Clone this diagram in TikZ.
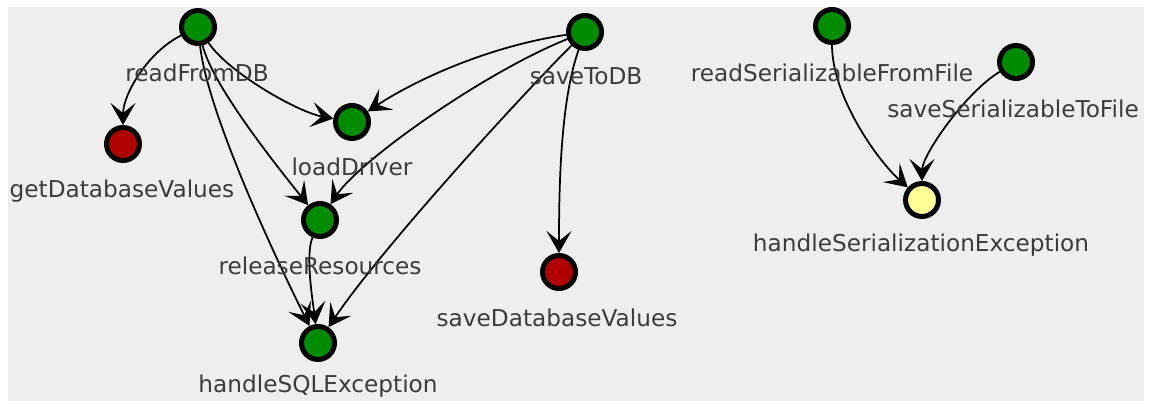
\documentclass[tikz,border=0pt]{standalone}
\usepackage{fontspec}
\setsansfont{DejaVu Sans}
\usetikzlibrary{arrows.meta}

\definecolor{panelgray}{HTML}{EEEEEE}
\definecolor{okgreen}{RGB}{0,140,0}
\definecolor{errred}{RGB}{176,0,0}
\definecolor{warnyellow}{RGB}{255,255,150}
\definecolor{textgray}{RGB}{60,60,60}

\tikzset{
  method/.style={circle,draw=black,line width=0.1cm,minimum size=0.66cm,inner sep=0pt},
  okmethod/.style={method,fill=okgreen},
  errmethod/.style={method,fill=errred},
  warnmethod/.style={method,fill=warnyellow},
  mname/.style={font=\sffamily\fontsize{13.2}{15}\selectfont,text=textgray,inner sep=0pt,anchor=base},
  call/.style={-{Stealth[length=0.44cm,width=0.5cm,inset=0.2cm,line width=0.06cm]},line width=0.035cm},
}

\begin{document}
\begin{tikzpicture}[x=0.02cm,y=-0.02cm]
  \useasboundingbox[fill=white] (0,0) rectangle (1151,401);
  \fill[panelgray] (8,7) rectangle (1144,401);

  %% methods
  \node[okmethod] (readFromDB) at (198,27) {};
  \node[errmethod] (getDatabaseValues) at (123,144) {};
  \node[okmethod] (loadDriver) at (352,122) {};
  \node[okmethod] (releaseResources) at (320,220) {};
  \node[okmethod] (handleSQLException) at (318,343) {};
  \node[okmethod] (saveToDB) at (585,32) {};
  \node[errmethod] (saveDatabaseValues) at (559,272) {};
  \node[okmethod] (readSerializableFromFile) at (832,26) {};
  \node[okmethod] (saveSerializableToFile) at (1016,62) {};
  \node[warnmethod] (handleSerializationException) at (922,200) {};

  %% calls
  \draw[call] (readFromDB) .. controls +(-50,25) and +(0,-50) .. (getDatabaseValues);
  \draw[call] (readFromDB) .. controls +(30,45) and +(-55,-10) .. (loadDriver);
  \draw[call] (readFromDB) .. controls +(15,60) and +(-40,-50) .. (releaseResources);
  \draw[call] (readFromDB) .. controls +(10,90) and +(-35,-70) .. (handleSQLException);
  \draw[call] (saveToDB) .. controls +(-100,15) and +(60,-40) .. (loadDriver);
  \draw[call] (saveToDB) .. controls +(-100,40) and +(40,-60) .. (releaseResources);
  \draw[call] (saveToDB) .. controls +(-70,70) and +(60,-90) .. (handleSQLException);
  \draw[call] (saveToDB) .. controls +(-25,70) and +(0,-80) .. (saveDatabaseValues);
  \draw[call] (releaseResources) .. controls +(-15,35) and +(-5,-40) .. (handleSQLException);
  \draw[call] (readSerializableFromFile) .. controls +(0,70) and +(-45,-40) .. (handleSerializationException);
  \draw[call] (saveSerializableToFile) .. controls +(-50,30) and +(0,-45) .. (handleSerializationException);

  %% names
  \node[mname] (readFromDB-name) at (197,82) {readFromDB};
  \node[mname] (getDatabaseValues-name) at (122,198) {getDatabaseValues};
  \node[mname] (loadDriver-name) at (352,176) {loadDriver};
  \node[mname] (releaseResources-name) at (320,275) {releaseResources};
  \node[mname] (handleSQLException-name) at (318,392) {handleSQLException};
  \node[mname] (saveToDB-name) at (586,85) {saveToDB};
  \node[mname] (saveDatabaseValues-name) at (557,327) {saveDatabaseValues};
  \node[mname] (readSerializableFromFile-name) at (832,82) {readSerializableFromFile};
  \node[mname] (saveSerializableToFile-name) at (1013,118) {saveSerializableToFile};
  \node[mname] (handleSerializationException-name) at (921,252) {handleSerializationException};
\end{tikzpicture}
\end{document}
